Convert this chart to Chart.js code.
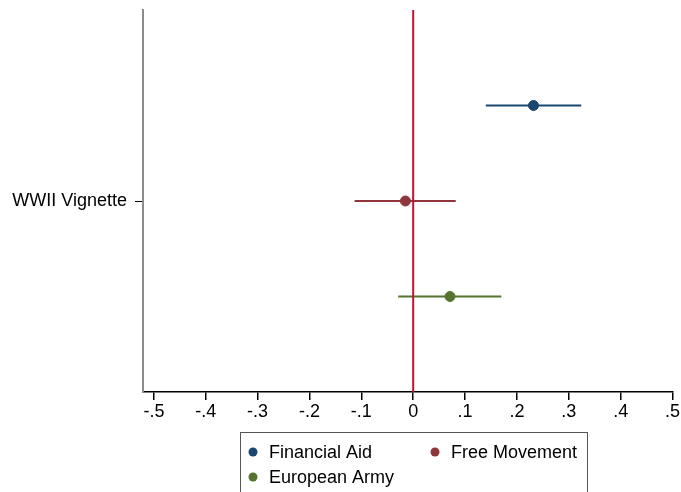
<!DOCTYPE html>
<html>
<head>
<meta charset="utf-8">
<script src="https://cdn.jsdelivr.net/npm/chart.js@4.4.0/dist/chart.umd.min.js"></script>
<style>
  html, body { margin: 0; padding: 0; background: #fff; }
  #wrap { width: 681px; height: 492px; }
</style>
</head>
<body>
<div id="wrap"><canvas id="myChart" width="681" height="492"></canvas></div>
<script>
// data
var category = "WWII Vignette";
var seriesNames = ["Financial Aid", "Free Movement", "European Army"];
var seriesColors = ["#1a476f", "#90353b", "#55752f"];
var estimates = [0.232, -0.015, 0.071];
var lowerCI = [0.140, -0.113, -0.029];
var upperCI = [0.324, 0.082, 0.170];
var rowPos = [1, 2, 3];
var xTicks = [-0.5, -0.4, -0.3, -0.2, -0.1, 0, 0.1, 0.2, 0.3, 0.4, 0.5];

var FONT = "'Liberation Sans', Arial, Helvetica, sans-serif";

function fmt(v) {
    var r = Math.round(v * 10) / 10;
    if (r === 0) return "0";
    var s = String(Math.abs(r)).replace(/^0/, "");
    return (r < 0 ? "-" : "") + s;
}

var datasets = [];
for (var i = 0; i < seriesNames.length; i++) {
    datasets.push({
        type: 'scatter',
        label: seriesNames[i],
        data: [{ x: estimates[i], y: rowPos[i] }],
        backgroundColor: seriesColors[i],
        borderColor: seriesColors[i],
        pointRadius: 5,
        pointHoverRadius: 5,
        ci: [lowerCI[i], upperCI[i]],
        order: 1
    });
}
// zero reference line
datasets.push({
    type: 'line',
    label: 'zero',
    data: [{ x: 0, y: 0 }, { x: 0, y: 4 }],
    borderColor: '#c8102e',
    borderWidth: 2,
    pointRadius: 0,
    order: 2
});

var ciPlugin = {
    id: 'ciLines',
    beforeDatasetsDraw: function (chart) {
        var ctx = chart.ctx;
        var xs = chart.scales.x, ys = chart.scales.y;
        ctx.save();
        chart.data.datasets.forEach(function (ds) {
            if (!ds.ci) return;
            var y = ys.getPixelForValue(ds.data[0].y);
            ctx.strokeStyle = ds.borderColor;
            ctx.lineWidth = 2;
            ctx.beginPath();
            ctx.moveTo(xs.getPixelForValue(ds.ci[0]), y);
            ctx.lineTo(xs.getPixelForValue(ds.ci[1]), y);
            ctx.stroke();
        });
        ctx.restore();
    }
};

var legendPlugin = {
    id: 'boxLegend',
    afterDraw: function (chart) {
        var ctx = chart.ctx;
        ctx.save();
        ctx.strokeStyle = '#555';
        ctx.lineWidth = 1;
        ctx.strokeRect(240.5, 432.5, 347, 70);
        var spots = [[253, 452], [435, 452], [253, 477]];
        ctx.font = '18px ' + FONT;
        ctx.textBaseline = 'middle';
        ctx.textAlign = 'left';
        for (var i = 0; i < seriesNames.length; i++) {
            ctx.fillStyle = seriesColors[i];
            ctx.beginPath();
            ctx.arc(spots[i][0], spots[i][1], 4.5, 0, Math.PI * 2);
            ctx.fill();
            ctx.fillStyle = '#000';
            ctx.fillText(seriesNames[i], spots[i][0] + 16, spots[i][1] + 1);
        }
        ctx.restore();
    }
};

var ctx = document.getElementById("myChart").getContext("2d");
var myChart = new Chart(ctx, {
    data: { datasets: datasets },
    options: {
        responsive: false,
        animation: false,
        layout: { padding: { top: 10, right: 1, bottom: 60, left: 0 } },
        plugins: {
            legend: { display: false },
            tooltip: { enabled: false }
        },
        scales: {
            x: {
                type: 'linear',
                min: -0.521,
                max: 0.5,
                afterBuildTicks: function (axis) {
                    axis.ticks = xTicks.map(function (v) { return { value: v }; });
                },
                afterFit: function (axis) {
                    axis.height = 40;
                },
                ticks: {
                    color: '#000',
                    padding: 1,
                    maxRotation: 0,
                    font: { family: FONT, size: 18 },
                    callback: function (v) { return fmt(v); }
                },
                grid: { drawOnChartArea: false, tickLength: 8, color: '#000', lineWidth: 1.5 },
                border: { color: '#000', width: 1.5 }
            },
            y: {
                type: 'linear',
                reverse: true,
                min: 0,
                max: 4,
                afterBuildTicks: function (axis) {
                    axis.ticks = [{ value: 2 }];
                },
                afterFit: function (axis) {
                    axis.width = 143;
                    axis.paddingTop = 0;
                    axis.paddingBottom = 0;
                },
                ticks: {
                    color: '#000',
                    padding: 8,
                    font: { family: FONT, size: 18 },
                    callback: function () { return category; }
                },
                grid: { drawOnChartArea: false, tickLength: 8, color: '#000', lineWidth: 1 },
                border: { color: '#8c8c8c', width: 2 }
            }
        }
    },
    plugins: [ciPlugin, legendPlugin]
});
</script>
</body>
</html>
